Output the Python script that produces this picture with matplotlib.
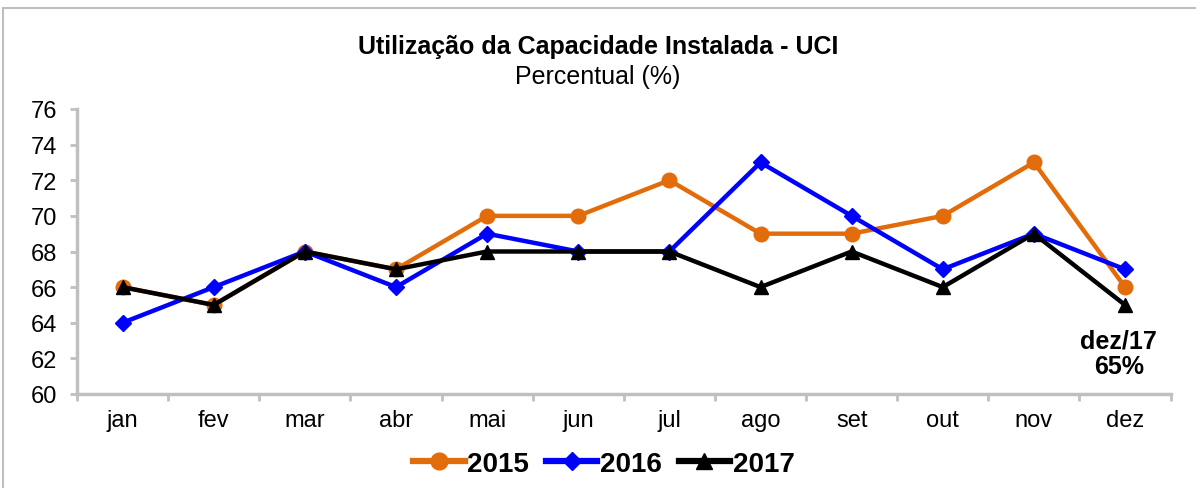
import matplotlib
matplotlib.use("Agg")
import matplotlib.pyplot as plt
from matplotlib.patches import Rectangle
import numpy as np

plt.rcParams['font.family'] = ['Liberation Sans', 'DejaVu Sans']

months = ["jan", "fev", "mar", "abr", "mai", "jun", "jul", "ago", "set", "out", "nov", "dez"]
uci_2015 = [66, 65, 68, 67, 70, 70, 72, 69, 69, 70, 73, 66]
uci_2016 = [64, 66, 68, 66, 69, 68, 68, 73, 70, 67, 69, 67]
uci_2017 = [66, 65, 68, 67, 68, 68, 68, 66, 68, 66, 69, 65]
yticks = [60, 62, 64, 66, 68, 70, 72, 74, 76]

fig = plt.figure(figsize=(11.96, 4.89), dpi=100)
# outer chart border (gray)
fig.patches.append(Rectangle((3/1196, -0.1), 1.2, 1 - 9/489 + 0.1, transform=fig.transFigure,
                             fill=False, edgecolor="#bfbfbf", linewidth=1.5))

ax = fig.add_axes([77/1196, 1 - 395/489, (1170.6 - 77)/1196, (395 - 110)/489])
x = np.arange(len(months))

ax.plot(x, uci_2015, color="#e36c0a", lw=3.2, marker="o", ms=10.5, label="2015", zorder=3)
ax.plot(x, uci_2016, color="#0000ff", lw=3.2, marker="D", ms=8, label="2016", zorder=4)
ax.plot(x, uci_2017, color="#000000", lw=3.2, marker="^", ms=10.5, label="2017", zorder=5)

ax.set_xlim(-0.5, len(months) - 0.5)
ax.set_ylim(60, 76)
ax.set_yticks(yticks)
ax.set_yticklabels([str(v) for v in yticks], fontsize=17)
ax.set_xticks(x)
ax.set_xticklabels(months, fontsize=17)
ax.set_xticks(np.arange(-0.5, len(months)), minor=True)
ax.tick_params(axis="x", which="major", length=0, pad=11)
ax.tick_params(axis="x", which="minor", length=5, width=2, color="#c0c0c0", direction="out")
ax.tick_params(axis="y", length=5, width=2, color="#c0c0c0", direction="out", pad=9)

for s in ["top", "right"]:
    ax.spines[s].set_visible(False)
for s in ["left", "bottom"]:
    ax.spines[s].set_color("#c0c0c0")
    ax.spines[s].set_linewidth(2.5)

ax.text(10.93, 62.3, "dez/17\n65%", ha="center", va="center", fontsize=18, fontweight="bold",
        linespacing=1.05)

fig.text(0.5, 1 - 47/489, "Utilização da Capacidade Instalada - UCI", ha="center", va="center",
         fontsize=18, fontweight="bold")
fig.text(0.5, 1 - 77/489, "Percentual (%)", ha="center", va="center", fontsize=18)

leg = fig.legend(loc="center", bbox_to_anchor=(0.505, 1 - 465/489), ncol=3, frameon=False,
                 prop={"size": 20, "weight": "bold"}, handlelength=1.85, handletextpad=0.1,
                 columnspacing=0.6, markerscale=1.15)
for h in leg.legend_handles:
    h.set_linewidth(4.5)

fig.savefig("out.png", dpi=100)
